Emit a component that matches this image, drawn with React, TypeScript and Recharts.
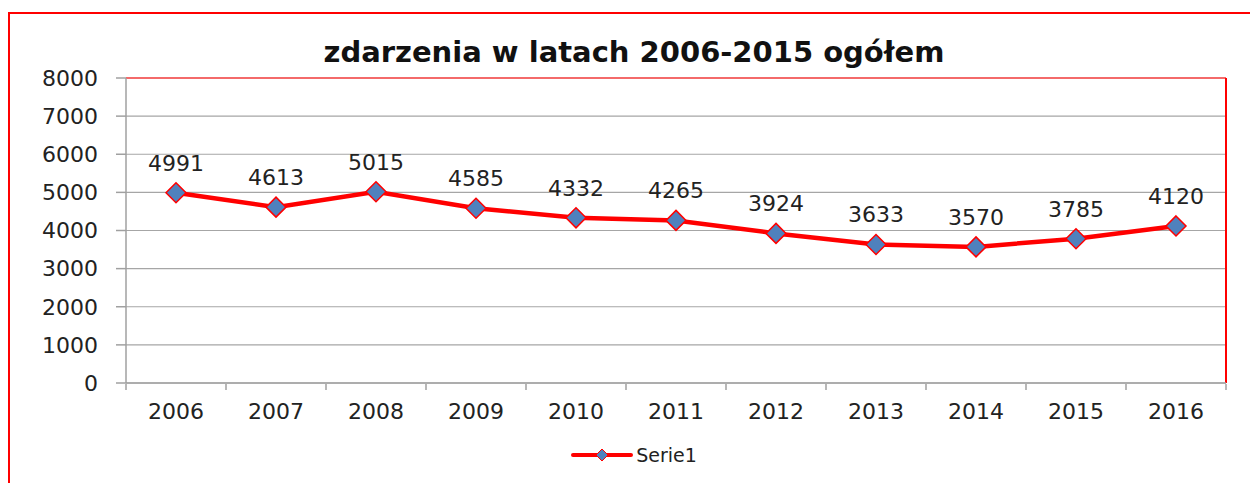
import React from 'react';
import {
  LineChart,
  Line,
  XAxis,
  YAxis,
  CartesianGrid,
  Legend,
  LabelList,
  ReferenceLine,
} from 'recharts';

const years = [2006, 2007, 2008, 2009, 2010, 2011, 2012, 2013, 2014, 2015, 2016];
const events = [4991, 4613, 5015, 4585, 4332, 4265, 3924, 3633, 3570, 3785, 4120];
const yTicks = [0, 1000, 2000, 3000, 4000, 5000, 6000, 7000, 8000];
const seriesName = 'Serie1';
const title = 'zdarzenia w latach 2006-2015 ogółem';

const data = years.map((year, i) => ({ year, value: events[i] }));
const edgeTicks = [...years.map((y) => y - 0.5), years[years.length - 1] + 0.5];

const FONT = '"DejaVu Sans", sans-serif';

function Diamond(props: any) {
  const { cx, cy } = props;
  if (cx == null || cy == null) return null;
  const r = 10;
  return (
    <polygon
      points={`${cx},${cy - r} ${cx + r},${cy} ${cx},${cy + r} ${cx - r},${cy}`}
      fill="#4f81bd"
      stroke="#ff0000"
      strokeWidth={1.5}
    />
  );
}

function LegendContent() {
  return (
    <div style={{ display: 'flex', justifyContent: 'center', alignItems: 'center' }}>
      <svg width={62} height={20}>
        <line x1={2} y1={10} x2={60} y2={10} stroke="#ff0000" strokeWidth={4} strokeLinecap="round" />
        <polygon points="31,4 37,10 31,16 25,10" fill="#4f81bd" stroke="#ff0000" strokeWidth={1} />
      </svg>
      <span style={{ fontFamily: FONT, fontSize: 19, color: '#222', marginLeft: 3 }}>{seriesName}</span>
    </div>
  );
}

export default function App() {
  return (
    <div style={{ position: 'relative', width: 1250, height: 483, background: '#fff', overflow: 'hidden' }}>
      <style>{'body{margin:0}'}</style>
      <div
        style={{
          position: 'absolute',
          left: 8,
          top: 12,
          width: 1260,
          height: 500,
          borderTop: '2.5px solid #ff0000',
          borderLeft: '2.5px solid #ff0000',
        }}
      />
      <div
        style={{
          position: 'absolute',
          top: 35,
          left: 0,
          width: 1268,
          textAlign: 'center',
          fontFamily: FONT,
          fontWeight: 'bold',
          fontSize: 29,
          lineHeight: '34px',
          color: '#111',
        }}
      >
        {title}
      </div>
      <LineChart
        width={1250}
        height={483}
        data={data}
        margin={{ top: 78, right: 24, bottom: 98, left: 0 }}
        style={{ position: 'absolute', top: 0, left: 0 }}
      >
        <CartesianGrid vertical={false} stroke="#a6a6a6" strokeWidth={1.2} />
        <XAxis
          xAxisId="edges"
          dataKey="year"
          type="number"
          domain={[edgeTicks[0], edgeTicks[edgeTicks.length - 1]]}
          ticks={edgeTicks}
          tickFormatter={() => ''}
          height={1}
          axisLine={false}
          tickSize={6}
          tickLine={{ stroke: '#a0a0a0', strokeWidth: 1.5 }}
        />
        <XAxis
          dataKey="year"
          type="number"
          domain={[edgeTicks[0], edgeTicks[edgeTicks.length - 1]]}
          ticks={years}
          height={1}
          tickLine={false}
          tickSize={6}
          tickMargin={14}
          axisLine={{ stroke: '#a0a0a0', strokeWidth: 1.5 }}
          tick={{ fill: '#222', fontSize: 22, fontFamily: FONT }}
        />
        <YAxis
          domain={[0, 8000]}
          ticks={yTicks}
          width={126}
          tickSize={10}
          tickMargin={18}
          axisLine={{ stroke: '#a0a0a0', strokeWidth: 1.5 }}
          tickLine={{ stroke: '#a0a0a0', strokeWidth: 1.5 }}
          tick={{ fill: '#222', fontSize: 22, fontFamily: FONT }}
        />
        <ReferenceLine y={8000} stroke="#f46a6a" strokeWidth={2} />
        <ReferenceLine x={edgeTicks[edgeTicks.length - 1]} stroke="#ff0000" strokeWidth={2} />
        <Legend
          layout="vertical"
          align="center"
          verticalAlign="middle"
          content={<LegendContent />}
          wrapperStyle={{ top: 444, left: 0, width: 1268 }}
        />
        <Line
          dataKey="value"
          name={seriesName}
          stroke="#ff0000"
          strokeWidth={4.5}
          dot={<Diamond />}
          activeDot={false}
          isAnimationActive={false}
        >
          <LabelList
            dataKey="value"
            position="top"
            offset={22}
            fill="#222"
            fontSize={22}
            fontFamily={FONT}
          />
        </Line>
      </LineChart>
    </div>
  );
}
